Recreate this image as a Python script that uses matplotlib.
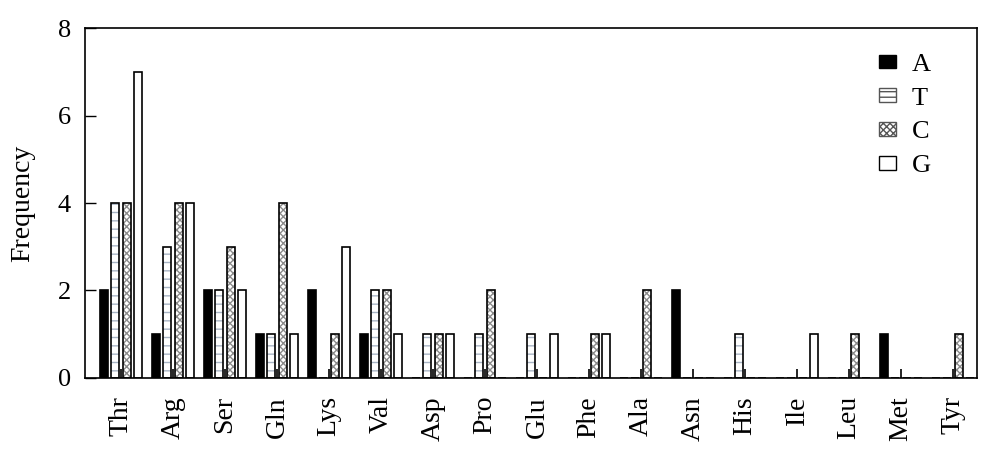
import matplotlib
matplotlib.use("Agg")
import matplotlib.pyplot as plt
import numpy as np
from matplotlib.patches import Patch

plt.rcParams["font.family"] = "serif"
plt.rcParams["font.serif"] = ["Liberation Serif", "DejaVu Serif"]

amino = ["Thr", "Arg", "Ser", "Gln", "Lys", "Val", "Asp", "Pro", "Glu",
         "Phe", "Ala", "Asn", "His", "Ile", "Leu", "Met", "Tyr"]
freq_A = [2, 1, 2, 1, 2, 1, 0, 0, 0, 0, 0, 2, 0, 0, 0, 1, 0]
freq_T = [4, 3, 2, 1, 0, 2, 1, 1, 1, 0, 0, 0, 1, 0, 0, 0, 0]
freq_C = [4, 4, 3, 4, 1, 2, 1, 2, 0, 1, 2, 0, 0, 0, 1, 0, 1]
freq_G = [7, 4, 2, 1, 3, 1, 1, 0, 1, 1, 0, 0, 0, 1, 0, 0, 0]

x = np.arange(len(amino))
step = 0.222
width = 0.155

fig = plt.figure(figsize=(10, 4.62), dpi=100)
ax = fig.add_axes([0.085, 0.182, 0.892, 0.757])

# A: solid black
ax.bar(x - 1.5 * step, freq_A, width, color="black", edgecolor="black", linewidth=1.2)
# T: horizontal lines
ax.bar(x - 0.5 * step, freq_T, width, color="white", edgecolor="#a8b4c4",
       hatch="--", linewidth=0)
ax.bar(x - 0.5 * step, freq_T, width, fill=False, edgecolor="black", linewidth=1.2)
# C: grey checker
ax.bar(x + 0.5 * step, freq_C, width, color="white", edgecolor="#8a8a8a",
       hatch="xxxxx", linewidth=0)
ax.bar(x + 0.5 * step, freq_C, width, fill=False, edgecolor="black", linewidth=1.2)
# G: open
ax.bar(x + 1.5 * step, freq_G, width, color="white", edgecolor="black", linewidth=1.2)

ax.set_xlim(-0.69, 16.46)
ax.set_ylim(0, 8)
ax.set_yticks([0, 2, 4, 6, 8])
ax.set_xticks(x)
ax.set_xticklabels(amino, rotation=90, fontsize=20)
ax.tick_params(axis="x", direction="in", length=6.5, width=1.2, pad=13)
ax.tick_params(axis="y", direction="in", length=8, width=1, labelsize=19, pad=10)
ax.set_ylabel("Frequency", fontsize=20, labelpad=16)
for s in ax.spines.values():
    s.set_linewidth(1.2)

handles = [
    Patch(facecolor="black", edgecolor="black", label="A"),
    Patch(facecolor="white", edgecolor="#555555", hatch="---", label="T"),
    Patch(facecolor="white", edgecolor="#555555", hatch="xxxxx", label="C"),
    Patch(facecolor="white", edgecolor="black", label="G"),
]
ax.legend(handles=handles, loc="upper right", bbox_to_anchor=(0.975, 0.995),
          frameon=False, fontsize=19, handlelength=0.65, handleheight=0.4,
          handletextpad=0.6, labelspacing=0.45)

fig.savefig("out.png", dpi=100)
